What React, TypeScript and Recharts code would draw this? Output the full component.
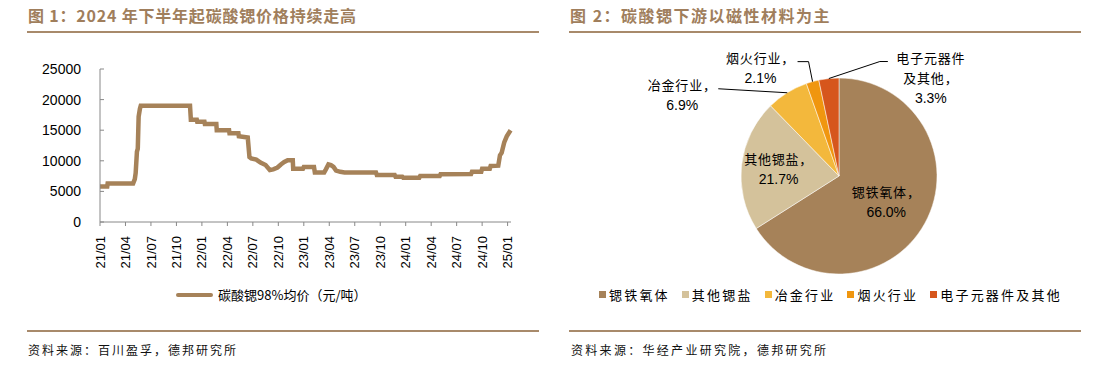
import React from "react";
import { LineChart, Line, XAxis, YAxis, PieChart, Pie, Cell } from "recharts";

// price series: x = months since 2021/01, v = 元/吨
const priceMonths = [
  0, 0.85, 0.9, 3.9, 4.1, 4.2, 4.35, 4.45, 4.55, 4.7, 4.8, 10.6, 10.7, 11.4, 11.45, 12.3, 12.35, 13.7, 13.75,
  15.2, 15.25, 16.3, 16.35, 17.4, 17.6, 17.8, 18.4, 18.9, 19.5, 20, 20.4, 20.9, 21.3, 21.7, 22.1, 22.7, 22.75,
  23.9, 24, 25.2, 25.3, 26.4, 26.6, 26.9, 27.2, 27.5, 27.8, 28.3, 28.8, 32.5, 32.6, 34.7, 34.8, 35.6, 35.7,
  37.6, 37.7, 40, 40.1, 43.7, 43.8, 44.9, 45, 45.9, 46, 46.9, 47.1, 47.3, 47.6, 47.9, 48.35,
];
const priceValues = [
  5800, 5800, 6300, 6300, 7000, 8000, 11500, 12000, 17200, 18500, 19000, 19000, 16700, 16700, 16400, 16400,
  16000, 16000, 15000, 15000, 14500, 14500, 14000, 13800, 10600, 10400, 10200, 9700, 9300, 8500, 8600, 8900,
  9400, 9800, 10100, 10100, 8700, 8700, 9000, 9000, 8100, 8100, 8600, 9400, 9300, 9000, 8400, 8200, 8100,
  8100, 7700, 7700, 7400, 7400, 7250, 7250, 7500, 7500, 7800, 7850, 8200, 8200, 8700, 8700, 9150, 9200,
  10900, 11300, 13000, 14000, 15000,
];
const xTicks = [0, 3, 6, 9, 12, 15, 18, 21, 24, 27, 30, 33, 36, 39, 42, 45, 48];
const yTicks = [0, 5000, 10000, 15000, 20000, 25000];

const pieNames = ["锶铁氧体", "其他锶盐", "冶金行业", "烟火行业", "电子元器件及其他"];
const pieValues = [66.0, 21.7, 6.9, 2.1, 3.3];
const pieColors = ["#A68259", "#D4C29B", "#F3B83C", "#F0960F", "#D6561C"];

const lineData = priceMonths.map((m, i) => ({ m, v: priceValues[i] }));
const pieData = pieNames.map((name, i) => ({ name, value: pieValues[i] }));

const BROWN = "#A68259";
const TITLE = "#A07E5C";
const CJK = "'Noto Sans CJK SC', sans-serif";
const NUM = "'Liberation Sans', Arial, sans-serif";

const fmtMonth = (m: number) => {
  const y = 21 + Math.floor(m / 12);
  const mo = (m % 12) + 1;
  return `${y}/${mo < 10 ? "0" + mo : mo}`;
};

const RotTick = (props: any) => {
  const { x, y, payload } = props;
  return (
    <g transform={`translate(${x},${y + 8})`}>
      <text transform="rotate(-90)" textAnchor="end" dy="0.35em" fontSize={13} fontFamily={NUM} fill="#000">
        {fmtMonth(payload.value)}
      </text>
    </g>
  );
};

// label placement per slice (layout only)
const labelCfg = [
  { inside: 0.55, lines: ["锶铁氧体，", "66.0%"] },
  { inside: 0.62, lines: ["其他锶盐，", "21.7%"] },
  { dx: -105, dy: -8, pts: [[-69, -4]], lines: ["冶金行业，", "6.9%"] },
  { dx: -52, dy: -24, pts: [[-4, -20], [-15, -20]], lines: ["烟火行业，", "2.1%"] },
  { dx: 102, dy: -21, pts: [[51, -17], [59, -17]], lines: ["电子元器件", "及其他，", "3.3%"] },
];

const RAD = Math.PI / 180;

const PieLabel = (props: any) => {
  const { cx, cy, midAngle, outerRadius, index } = props;
  const cfg: any = labelCfg[index];
  const cos = Math.cos(-midAngle * RAD);
  const sin = Math.sin(-midAngle * RAD);
  const lh = 20;
  const lineEl = (t: string, x: number, y: number, k: number) => (
    <text
      key={k}
      x={x}
      y={y}
      textAnchor="middle"
      dominantBaseline="central"
      fontSize={/%/.test(t) ? 14 : 13}
      fontFamily={/%/.test(t) ? NUM : CJK}
      letterSpacing={/%/.test(t) ? 0 : 0.8}
      fill="#000"
    >
      {t}
    </text>
  );
  if (cfg.inside) {
    const r = outerRadius * cfg.inside;
    const x = cx + r * cos;
    const y = cy + r * sin;
    const y0 = y - ((cfg.lines.length - 1) * lh) / 2;
    return <g>{cfg.lines.map((t: string, k: number) => lineEl(t, x, y0 + k * lh, k))}</g>;
  }
  const ox = cx + outerRadius * cos;
  const oy = cy + outerRadius * sin;
  const pts = [[ox, oy], ...cfg.pts.map((p: number[]) => [ox + p[0], oy + p[1]])];
  return (
    <g>
      <polyline points={pts.map((p) => p.join(",")).join(" ")} fill="none" stroke="#000" strokeWidth={1} />
      {cfg.lines.map((t: string, k: number) => lineEl(t, ox + cfg.dx, oy + cfg.dy + k * lh, k))}
    </g>
  );
};

const rule = (left: number, top: number, width: number) => (
  <div style={{ position: "absolute", left, top, width, height: 2, background: "#A88A6B" }} />
);

export default function App() {
  return (
    <div style={{ position: "absolute", left: 0, top: 0, width: 1096, height: 366, background: "#fff", fontFamily: CJK }}>
      <div style={{ position: "absolute", left: 28, top: 4, fontSize: 16, fontWeight: 700, color: TITLE, letterSpacing: 0.8, lineHeight: "22px", whiteSpace: "nowrap" }}>
        图 1：2024 年下半年起碳酸锶价格持续走高
      </div>
      <div style={{ position: "absolute", left: 570, top: 4, fontSize: 16, fontWeight: 700, color: TITLE, letterSpacing: 1.5, lineHeight: "22px", whiteSpace: "nowrap" }}>
        图 2：碳酸锶下游以磁性材料为主
      </div>
      {rule(27, 31, 512)}
      {rule(569, 31, 512)}
      {rule(27, 330, 512)}
      {rule(569, 330, 512)}

      <div style={{ position: "absolute", left: 0, top: 40 }}>
        <LineChart width={540} height={240} data={lineData} margin={{ top: 29, right: 29, bottom: 8, left: 0 }}>
          <XAxis
            dataKey="m"
            type="number"
            domain={[0, 48.4]}
            ticks={xTicks}
            interval={0}
            height={50}
            stroke="#888"
            tickSize={4}
            tick={<RotTick />}
          />
          <YAxis
            domain={[0, 25000]}
            ticks={yTicks}
            width={100}
            stroke="#888"
            tickSize={-4}
            tickMargin={23}
            tick={{ fontSize: 14, fontFamily: NUM, fill: "#000" }}
          />
          <Line type="linear" dataKey="v" stroke={BROWN} strokeWidth={4.5} dot={false} isAnimationActive={false} />
        </LineChart>
      </div>
      <div style={{ position: "absolute", left: 176, top: 285, display: "flex", alignItems: "center", fontSize: 13, whiteSpace: "nowrap" }}>
        <span style={{ display: "inline-block", width: 37, height: 4, background: BROWN, borderRadius: 2, marginRight: 5 }} />
        <span>碳酸锶98%均价（元/吨）</span>
      </div>

      <div style={{ position: "absolute", left: 560, top: 40 }}>
        <PieChart width={536} height={250}>
          <Pie
            data={pieData}
            dataKey="value"
            cx={274}
            cy={131}
            outerRadius={98}
            startAngle={90}
            endAngle={-270}
            stroke="#fff"
            strokeWidth={0.5}
            label={PieLabel}
            labelLine={false}
            isAnimationActive={false}
          >
            {pieData.map((d, i) => (
              <Cell key={d.name} fill={pieColors[i]} />
            ))}
          </Pie>
        </PieChart>
      </div>
      <div style={{ position: "absolute", left: 599, top: 285, display: "flex", alignItems: "center", fontSize: 13, letterSpacing: 2.2, whiteSpace: "nowrap" }}>
        {pieNames.map((n, i) => (
          <span key={n} style={{ display: "flex", alignItems: "center", marginRight: 12 }}>
            <span style={{ display: "inline-block", width: 7, height: 7, background: pieColors[i], marginRight: 3 }} />
            {n}
          </span>
        ))}
      </div>

      <div style={{ position: "absolute", left: 28, top: 341, fontSize: 12, letterSpacing: 2, color: "#111", whiteSpace: "nowrap" }}>
        资料来源：百川盈孚，德邦研究所
      </div>
      <div style={{ position: "absolute", left: 571, top: 341, fontSize: 12, letterSpacing: 2.3, color: "#111", whiteSpace: "nowrap" }}>
        资料来源：华经产业研究院，德邦研究所
      </div>
    </div>
  );
}
